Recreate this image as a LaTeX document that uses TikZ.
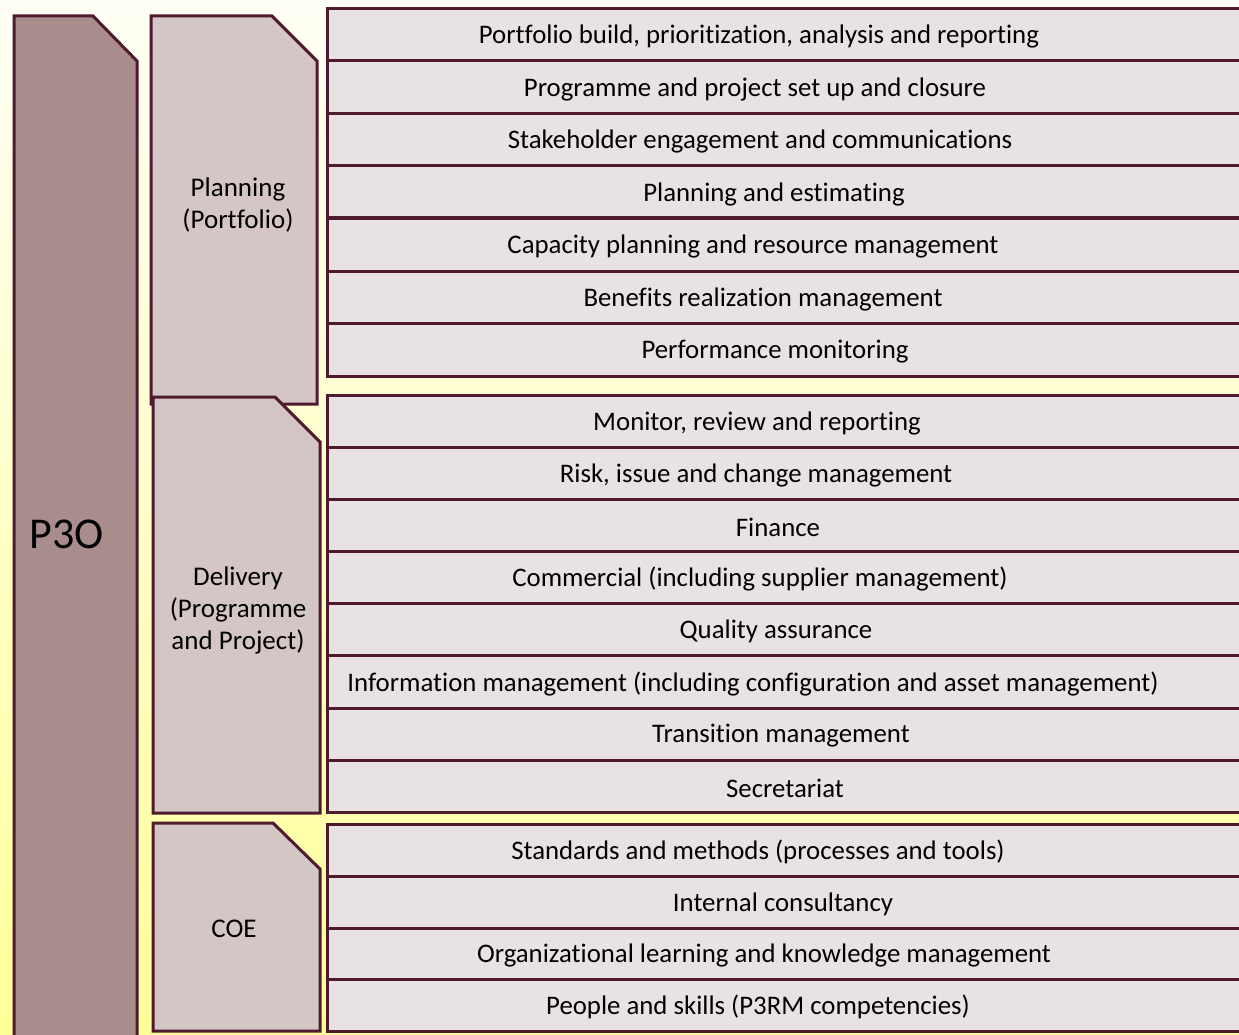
\documentclass[tikz,border=0pt]{standalone}
\usepackage{fontspec}
\setmainfont{Carlito}[Ligatures={NoCommon}]
\definecolor{bord}{HTML}{4F1A2E}
\definecolor{pfill}{HTML}{A98D8D}
\definecolor{lfill}{HTML}{D5C6C6}
\definecolor{rfill}{HTML}{E8E2E3}
\definecolor{bgtop}{HTML}{FFFFF6}
\definecolor{bgbot}{HTML}{FFFF99}
\begin{document}
\begin{tikzpicture}[x=1pt,y=-1pt,
  rowbox/.style={draw=bord,line width=3pt,fill=rfill},
  rowtext/.style={font=\fontsize{26.8}{32}\selectfont,inner sep=0pt,text=black},
  leftbox/.style={draw=bord,line width=3pt,fill=lfill,line join=miter},
  lefttext/.style={font=\fontsize{27}{32}\selectfont,align=center,inner sep=0pt,text=black}]
\useasboundingbox (0,0) rectangle (1239,1035);
\clip (0,0) rectangle (1239,1035);
\shade[top color=bgtop,bottom color=bgbot] (0,0) rectangle (1239,1035);
% rows
\foreach \a/\b/\c/\t [count=\i] in {
  9/61/759/{Portfolio build, prioritization, analysis and reporting},
  61/114/755/{Programme and project set up and closure},
  114/166/760/{Stakeholder engagement and communications},
  166/218/774/{Planning and estimating},
  218/271/753/{Capacity planning and resource management},
  271/323/763/{Benefits realization management},
  323/376/775/{Performance monitoring},
  395/447/757/{Monitor, review and reporting},
  447/499/756/{Risk, issue and change management},
  499/551/778/{Finance},
  551/603/760/{Commercial (including supplier management)},
  603/655/776/{Quality assurance},
  655/708/753/{Information management (including configuration and asset management)},
  708/760/781/{Transition management},
  760/812/785/{Secretariat},
  824/876/758/{Standards and methods (processes and tools)},
  876/928/783/{Internal consultancy},
  928/979/764/{Organizational learning and knowledge management},
  979/1031/758/{People and skills (P3RM competencies)}} {
  \draw[rowbox] (327,\a) rectangle (1260,\b);
  \node[rowtext] (t\i) at (\c,{(\a+\b)/2+2}) {\t};
}
% P3O
\draw[leftbox,fill=pfill] (14,16) -- (93,16) -- (137,61) -- (137,1050) -- (14,1050) -- cycle;
\node[lefttext,font=\fontsize{44}{50}\selectfont] (p3o) at (67,534) {P3O};
% Planning
\draw[leftbox] (151,16) -- (272,16) -- (317,61) -- (317,404) -- (151,404) -- cycle;
\node[lefttext] (plan) at (238,205) {Planning\\(Portfolio)};
% Delivery
\draw[leftbox] (153,397) -- (275,397) -- (320,442) -- (320,813) -- (153,813) -- cycle;
\node[lefttext] (deliv) at (238,610) {Delivery\\(Programme\\and Project)};
% COE
\draw[leftbox] (153,823) -- (273,823) -- (320,869) -- (320,1031) -- (153,1031) -- cycle;
\node[lefttext] (coe) at (234,929) {COE};
\end{tikzpicture}
\end{document}
